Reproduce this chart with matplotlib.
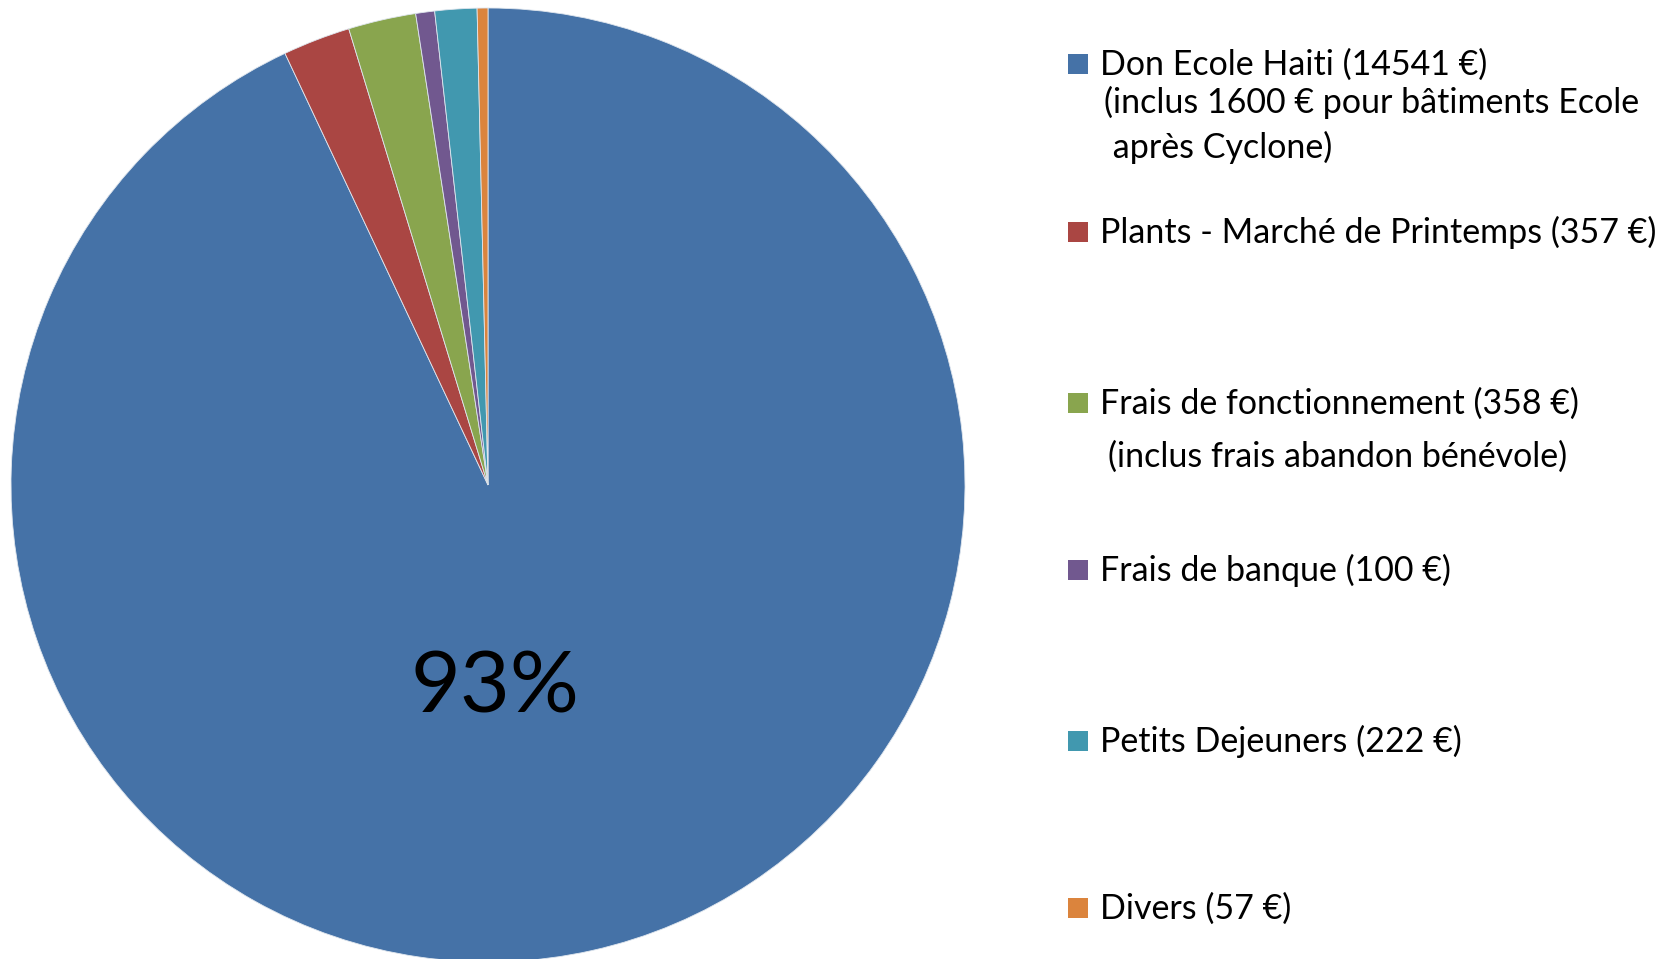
import numpy as np
import matplotlib.pyplot as plt
from matplotlib.patches import Rectangle

# data
labels = [
    "Don Ecole Haiti (14541 €)",
    "Plants - Marché de Printemps (357 €)",
    "Frais de fonctionnement (358 €)",
    "Frais de banque (100 €)",
    "Petits Dejeuners (222 €)",
    "Divers (57 €)",
]
notes = [
    ["(inclus 1600 € pour bâtiments Ecole", " après Cyclone)"],
    [],
    ["(inclus frais abandon bénévole)"],
    [],
    [],
    [],
]
values = [14541, 357, 358, 100, 222, 57]
colors = ["#4572A7", "#AA4643", "#89A54E", "#71588F", "#4198AF", "#DB843D"]

W, H = 1679, 959
plt.rcParams['font.family'] = ['Lato', 'DejaVu Sans']

fig = plt.figure(figsize=(W / 100, H / 100), dpi=100)

# pie placed in pixels
cx, cy, r = 488, 485, 477
ax = fig.add_axes([(cx - r) / W, (H - cy - r) / H, 2 * r / W, 2 * r / H])
ax.pie(values, colors=colors, startangle=90, counterclock=False, radius=1,
       wedgeprops=dict(edgecolor='#dfe6ee', linewidth=0.6))
ax.set_xlim(-1, 1)
ax.set_ylim(-1, 1)
ax.set_aspect('equal')
ax.axis('off')

share = values[0] / sum(values) * 100
ax.text(0.015, -0.426, f"{share:.0f}%", ha='center', va='center', fontsize=62)

# legend, drawn by hand to keep the odd spacing
baselines = [75, 243, 414, 581, 752, 919]
note_lines = [[113, 158], [], [467], [], [], []]
note_x = [[1104, 1104], [], [1108], [], [], []]
fs = 24.5
sq = 20
for i, lab in enumerate(labels):
    b = baselines[i]
    fig.patches.append(Rectangle(((1068) / W, (H - b + 11 - sq / 2) / H), sq / W, sq / H,
                                 transform=fig.transFigure, facecolor=colors[i],
                                 edgecolor='none'))
    fig.text(1100 / W, (H - b) / H, lab, fontsize=fs, va='baseline', ha='left')
    for j, note in enumerate(notes[i]):
        fig.text(note_x[i][j] / W, (H - note_lines[i][j]) / H, note, fontsize=fs,
                 va='baseline', ha='left')

fig.savefig('out.png', dpi=100)
